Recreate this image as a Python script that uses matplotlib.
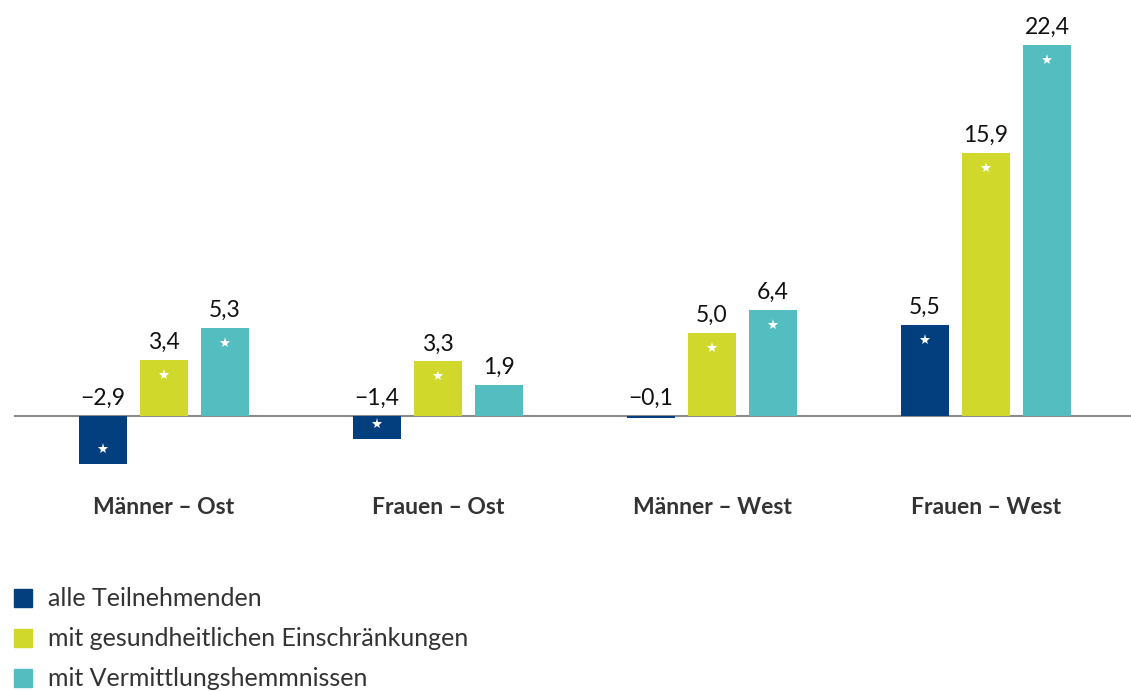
import numpy as np
import matplotlib.pyplot as plt

plt.rcParams['font.family'] = ['Lato', 'DejaVu Sans']

# data
groups = ['Männer – Ost', 'Frauen – Ost', 'Männer – West', 'Frauen – West']
series = ['alle Teilnehmenden', 'mit gesundheitlichen Einschränkungen', 'mit Vermittlungshemmnissen']
alle = [-2.9, -1.4, -0.1, 5.5]
gesund = [3.4, 3.3, 5.0, 15.9]
vermittl = [5.3, 1.9, 6.4, 22.4]
# significant (star) flags
sig_alle = [True, True, False, True]
sig_gesund = [True, True, True, True]
sig_vermittl = [True, False, True, True]

colors = ['#033f7e', '#d0d82b', '#53bdbf']
values = [alle, gesund, vermittl]
sigs = [sig_alle, sig_gesund, sig_vermittl]

fig = plt.figure(figsize=(11.31, 6.91), dpi=100)
# axes covering upper part, pixel-like scale
ax = fig.add_axes([0, 1 - 480 / 691, 1, 480 / 691])
ax.set_xlim(-164 / 274, 3 + 145 / 274)
ax.set_ylim(-64 / 16.56, 416 / 16.56)
ax.axis('off')

x = np.arange(len(groups))
off = 61 / 274
w = 48 / 274
px = 1 / 16.56  # one pixel in y data units

for i, (vals, col, sg) in enumerate(zip(values, colors, sigs)):
    xs = x + (i - 1) * off
    ax.bar(xs, vals, width=w, color=col, zorder=2)
    for xi, v, s in zip(xs, vals, sg):
        lab = f'{v:.1f}'.replace('.', ',').replace('-', '\u2212')
        ytxt = max(v, 0) + 7 * px
        ax.text(xi, ytxt, lab, ha='center', va='bottom', fontsize=16.5, color='#111111')
        if s:
            ys = v - 15 * px if v > 0 else v + 15 * px
            ax.plot(xi, ys, marker='*', color='white', markersize=8, markeredgewidth=0, zorder=3)

ax.axhline(0, xmin=15 / 1131, xmax=1, color='#8a8a8a', lw=1.5, zorder=1)

for xi, g in zip(x, groups):
    ax.text(xi, -92 * px, g, ha='center', va='center', fontsize=16.5, fontweight='bold', color='#333333')

# legend
for k, (lab, col) in enumerate(zip(series, colors)):
    ycen = 1 - (598 + k * 40) / 691
    fig.patches.append(plt.Rectangle((14 / 1131, ycen - 9 / 691), 18 / 1131, 18 / 691,
                                     transform=fig.transFigure, color=col, figure=fig))
    fig.text(48 / 1131, ycen, lab, ha='left', va='center', fontsize=18, color='#333333')

fig.savefig('out.png', dpi=100)
